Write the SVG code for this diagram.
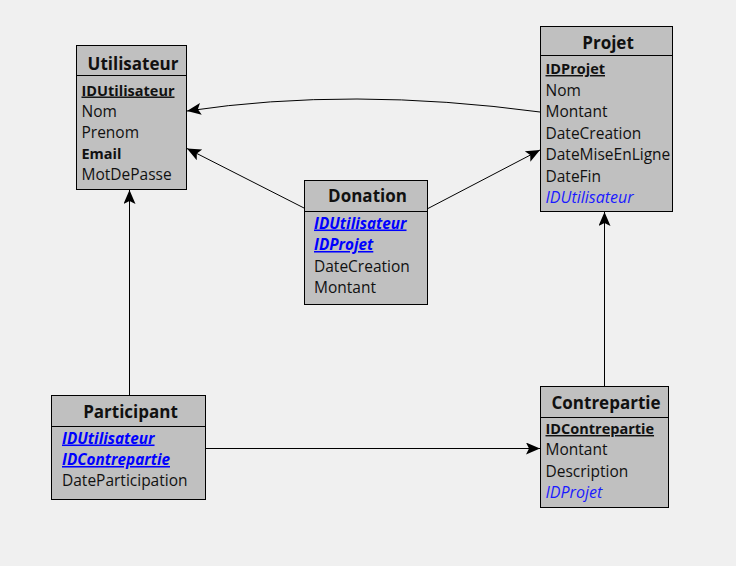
<svg xmlns="http://www.w3.org/2000/svg" width="736" height="566" viewBox="0 0 736 566">
<defs>
<style>
.box{fill:#c0c0c0;stroke:#000;stroke-width:1}
.sep{stroke:#000;stroke-width:1}
.title{font-family:"Open Sans","Noto Sans",sans-serif;font-weight:bold;font-size:17px;fill:#111;text-anchor:middle}
.f{font-family:"Open Sans","Noto Sans",sans-serif;font-size:15.5px;fill:#111}
.pk{font-weight:bold;text-decoration:underline;font-size:14.5px}
.b{font-weight:bold;font-size:14.5px}
.fk{font-style:italic;fill:#1a1aff;font-size:16px}
.pfk{font-style:italic;font-weight:bold;fill:#0000ff;text-decoration:underline;font-size:15.3px}
.c{fill:none;stroke:#000;stroke-width:1}
</style>
<marker id="arr" markerWidth="16" markerHeight="12" refX="15" refY="6" orient="auto" markerUnits="userSpaceOnUse" viewBox="0 0 16 12">
<path d="M15,6 L1,0 L4,6 L1,12 Z" fill="#000"/>
</marker>
</defs>
<rect width="736" height="566" fill="#f0f0f0"/>
<g id="connectors">
<path class="c" d="M540,112 Q350.5,86.5 187,111" marker-end="url(#arr)"/>
<path class="c" d="M304,208 L187,148.5" marker-end="url(#arr)"/>
<path class="c" d="M427,209 L540,150" marker-end="url(#arr)"/>
<path class="c" d="M129.5,395 L129.5,190" marker-end="url(#arr)"/>
<path class="c" d="M206,448.5 L540,448.5" marker-end="url(#arr)"/>
<path class="c" d="M604.5,386 L604.5,212" marker-end="url(#arr)"/>
</g>
<g id="Utilisateur">
<rect class="box" x="76.5" y="45.5" width="110" height="144"/>
<line class="sep" x1="76.5" y1="75.5" x2="186.5" y2="75.5"/>
<text class="title" x="133" y="70">Utilisateur</text>
<text class="f pk" x="81.5" y="95.5">IDUtilisateur</text>
<text class="f" x="81.5" y="116.5">Nom</text>
<text class="f" x="81.5" y="137.5">Prenom</text>
<text class="f b" x="81.5" y="159">Email</text>
<text class="f" x="81.5" y="180">MotDePasse</text>
</g>
<g id="Projet">
<rect class="box" x="540.5" y="26.5" width="132" height="185"/>
<line class="sep" x1="540.5" y1="55.5" x2="672.5" y2="55.5"/>
<text class="title" x="608" y="49">Projet</text>
<text class="f pk" x="545.5" y="74">IDProjet</text>
<text class="f" x="545.5" y="95.5">Nom</text>
<text class="f" x="545.5" y="117">Montant</text>
<text class="f" x="545.5" y="138.5">DateCreation</text>
<text class="f" x="545.5" y="160">DateMiseEnLigne</text>
<text class="f" x="545.5" y="181.5">DateFin</text>
<text class="f fk" x="545.5" y="203">IDUtilisateur</text>
</g>
<g id="Donation">
<rect class="box" x="304.5" y="180.5" width="123" height="124"/>
<line class="sep" x1="304.5" y1="211.5" x2="427.5" y2="211.5"/>
<text class="title" x="367.5" y="202">Donation</text>
<text class="f pfk" x="314" y="228.5">IDUtilisateur</text>
<text class="f pfk" x="314" y="250">IDProjet</text>
<text class="f" x="314" y="271.5">DateCreation</text>
<text class="f" x="314" y="293">Montant</text>
</g>
<g id="Participant">
<rect class="box" x="51.5" y="395.5" width="154" height="104"/>
<line class="sep" x1="51.5" y1="426.5" x2="205.5" y2="426.5"/>
<text class="title" x="130.5" y="417.5">Participant</text>
<text class="f pfk" x="62" y="443.5">IDUtilisateur</text>
<text class="f pfk" x="62" y="465">IDContrepartie</text>
<text class="f" x="62" y="486">DateParticipation</text>
</g>
<g id="Contrepartie">
<rect class="box" x="540.5" y="386.5" width="128" height="121"/>
<line class="sep" x1="540.5" y1="417.5" x2="668.5" y2="417.5"/>
<text class="title" x="606" y="408.5">Contrepartie</text>
<text class="f pk" x="545.5" y="434">IDContrepartie</text>
<text class="f" x="545.5" y="455">Montant</text>
<text class="f" x="545.5" y="476.5">Description</text>
<text class="f fk" x="545.5" y="498">IDProjet</text>
</g>
</svg>
